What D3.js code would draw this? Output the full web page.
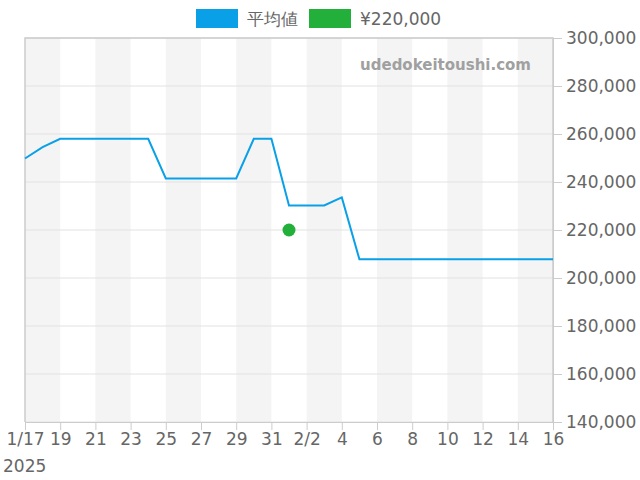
<!DOCTYPE html>
<html><head><meta charset="utf-8">
<script src="https://cdn.jsdelivr.net/npm/d3@7"></script>
<style>body{margin:0;background:#fff}svg{display:block;font-family:"DejaVu Sans",sans-serif}</style>
</head><body><svg id="c" width="640" height="480"></svg>
<script>
const dates = ["2025-01-17","2025-01-18","2025-01-19","2025-01-24","2025-01-25","2025-01-29","2025-01-30","2025-01-31","2025-02-01","2025-02-03","2025-02-04","2025-02-05","2025-02-16"];
const avgValues = [249800,254500,258000,258000,241500,241500,258000,258000,230200,230200,233600,207800,207800];
const pointDates = ["2025-02-01"];
const pointValues = [220000];
const yTicks = [140000,160000,180000,200000,220000,240000,260000,280000,300000];
const seriesNames = ["平均値","¥220,000"];
const colors = ["#0aa0e8","#22b03a"];

const parse = d3.timeParse("%Y-%m-%d");
const svg = d3.select("#c");
const L=25,R=553,T=38,B=422;
const x = d3.scaleTime().domain([parse("2025-01-17"),parse("2025-02-16")]).range([L,R]);
const y = d3.scaleLinear().domain([140000,300000]).range([B,T]);

// bands
const bandStarts = d3.timeDay.range(parse("2025-01-17"),parse("2025-02-16"),4);
svg.append("g").selectAll("rect").data(bandStarts).join("rect")
  .attr("x",d=>x(d)).attr("y",T).attr("width",d=>x(d3.timeDay.offset(d,2))-x(d)).attr("height",B-T)
  .attr("fill","#f4f4f4");

// grid
svg.append("g").selectAll("line").data(yTicks).join("line")
  .attr("x1",L).attr("x2",R).attr("y1",d=>y(d)).attr("y2",d=>y(d))
  .attr("stroke","#e2e2e2").attr("stroke-width",1);

// border
svg.append("path").attr("d",`M${L},${B}V${T}H${R}V${B}`).attr("fill","none").attr("stroke","#cccccc").attr("stroke-width",1.5);

// watermark
svg.append("text").attr("x",531).attr("y",70).attr("text-anchor","end")
  .attr("font-size",15).attr("font-weight","bold").attr("fill","#a0a0a0").text("udedokeitoushi.com");

// y axis right
const ya = svg.append("g").attr("transform",`translate(${R},0)`)
  .call(d3.axisRight(y).tickValues(yTicks).tickSize(9).tickPadding(4).tickFormat(d3.format(",")));
ya.select(".domain").attr("stroke","#cccccc");
ya.selectAll(".tick line").attr("stroke","#cccccc");
ya.selectAll("text").attr("font-size",17).attr("fill","#666").attr("font-family","DejaVu Sans");

// x axis
const xTicks = d3.timeDay.range(parse("2025-01-17"),d3.timeDay.offset(parse("2025-02-16"),1),2);
const xa = svg.append("g").attr("transform",`translate(0,${B})`)
  .call(d3.axisBottom(x).tickValues(xTicks).tickSize(8).tickPadding(3)
    .tickFormat(d=>{ if(+d===+parse("2025-01-17")) return "1/17"; if(d.getDate()===2&&d.getMonth()===1) return "2/2"; return d.getDate(); }));
xa.select(".domain").attr("stroke","#cccccc");
xa.selectAll(".tick line").attr("stroke","#cccccc");
xa.selectAll("text").attr("font-size",17).attr("fill","#666").attr("font-family","DejaVu Sans");
svg.append("text").attr("x",3).attr("y",472).attr("font-size",17).attr("fill","#666").text("2025");

// line
const data = dates.map((d,i)=>({d:parse(d),v:avgValues[i]}));
svg.append("path").datum(data)
  .attr("d",d3.line().x(d=>x(d.d)).y(d=>y(d.v)))
  .attr("fill","none").attr("stroke",colors[0]).attr("stroke-width",2);

// points
svg.append("g").selectAll("circle").data(pointDates.map((d,i)=>({d:parse(d),v:pointValues[i]}))).join("circle")
  .attr("cx",d=>x(d.d)).attr("cy",d=>y(d.v)).attr("r",6.5).attr("fill",colors[1]);

// legend
const lg = svg.append("g");
const lx=[196,309];
seriesNames.forEach((n,i)=>{
  lg.append("rect").attr("x",lx[i]).attr("y",9).attr("width",42).attr("height",19).attr("fill",colors[i]);
  lg.append("text").attr("x",lx[i]+51).attr("y",25).attr("font-size",17).attr("fill","#666").text(n);
});
</script></body></html>
